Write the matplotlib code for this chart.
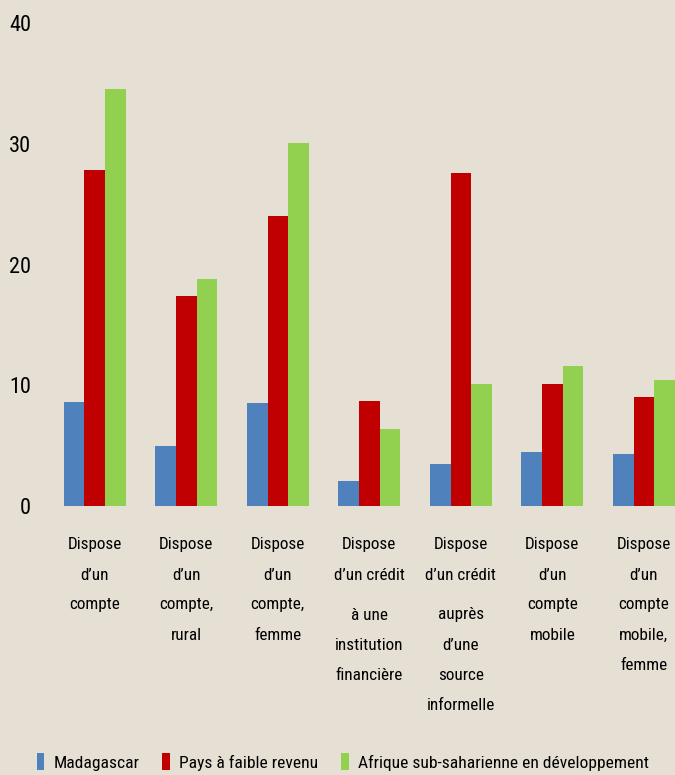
import numpy as np
import matplotlib.pyplot as plt
from matplotlib.patches import Patch

# each label: list of paragraphs, each paragraph a list of lines
categories = [
    [["Dispose", "d\u2019un", "compte"]],
    [["Dispose", "d\u2019un", "compte,", "rural"]],
    [["Dispose", "d\u2019un", "compte,", "femme"]],
    [["Dispose", "d\u2019un cr\u00e9dit"], ["\u00e0 une", "institution", "financi\u00e8re"]],
    [["Dispose", "d\u2019un cr\u00e9dit"], ["aupr\u00e8s", "d\u2019une", "source", "informelle"]],
    [["Dispose", "d\u2019un", "compte", "mobile"]],
    [["Dispose", "d\u2019un", "compte", "mobile,", "femme"]],
]
series_names = ["Madagascar", "Pays \u00e0 faible revenu",
                "Afrique sub-saharienne en d\u00e9veloppement"]
madagascar = [8.6, 5.0, 8.5, 2.1, 3.5, 4.5, 4.3]
faible_revenu = [27.8, 17.4, 24.0, 8.7, 27.6, 10.1, 9.0]
afrique_ss = [34.5, 18.8, 30.1, 6.4, 10.1, 11.6, 10.4]

colors = ["#4F81BD", "#C00000", "#92D050"]
bg = "#E5DFD4"

plt.rcParams['font.family'] = ['Roboto Condensed', 'Roboto', 'DejaVu Sans']

fig = plt.figure(figsize=(6.75, 7.75), dpi=100, facecolor=bg)
ax = fig.add_axes([49 / 675, (775 - 506) / 775, 1 - 49 / 675, (506 - 23) / 775])
ax.set_facecolor(bg)

x = np.arange(len(categories))
w = 0.225
for i, vals in enumerate([madagascar, faible_revenu, afrique_ss]):
    ax.bar(x + (i - 1) * w, vals, width=w, color=colors[i], zorder=2)

ax.set_ylim(0, 40)
ax.set_xlim(-0.5, 6.34)
ax.set_yticks([0, 10, 20, 30, 40])
ax.tick_params(axis='y', length=0, labelsize=16, pad=13)
ax.set_xticks([])
for s in ax.spines.values():
    s.set_visible(False)

# category labels, line by line (30 px per line, 10 px extra between paragraphs)
tr = ax.get_xaxis_transform()
for xi, paras in zip(x, categories):
    off = -39
    for p, lines in enumerate(paras):
        if p > 0:
            off -= 10
        for line in lines:
            ax.annotate(line, (xi, 0), xycoords=tr, xytext=(0, off * 0.72),
                        textcoords='offset points', ha='center', va='center',
                        fontsize=12.3, annotation_clip=False)
            off -= 30

handles = [Patch(facecolor=c, edgecolor='none') for c in colors]
fig.legend(handles, series_names, loc='center', bbox_to_anchor=(0.508, (775 - 762) / 775),
           ncol=3, frameon=False, fontsize=12.6, handlelength=0.42, handleheight=1.1,
           handletextpad=0.55, columnspacing=1.3, borderpad=0, borderaxespad=0)

fig.savefig("out.png", dpi=100, facecolor=bg)
